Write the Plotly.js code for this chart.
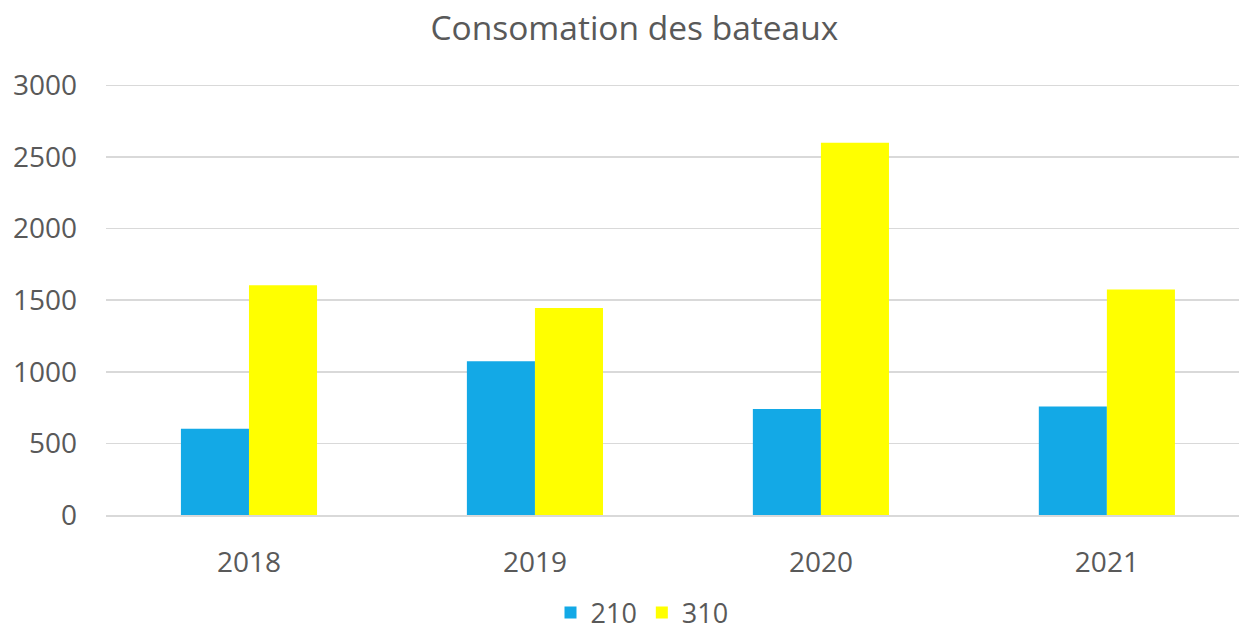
<!DOCTYPE html>
<html>
<head>
<meta charset="utf-8">
<script src="https://cdn.plot.ly/plotly-3.0.1.min.js"></script>
<style>html,body{margin:0;padding:0;background:#fff;}#chart{width:1239px;height:631px;}</style>
</head>
<body>
<div id="chart"></div>
<script>
const years = ["2018", "2019", "2020", "2021"];
const seriesNames = ["210", "310"];
const values210 = [602, 1073, 740, 758];
const values310 = [1605, 1445, 2600, 1575];
const yTicks = [0, 500, 1000, 1500, 2000, 2500, 3000];

const font = "Open Sans, Noto Sans, sans-serif";
const textColor = "#595959";

const traces = [
  {type: "bar", name: seriesNames[0], x: years, y: values210, marker: {color: "#13A9E6"}},
  {type: "bar", name: seriesNames[1], x: years, y: values310, marker: {color: "#FFFF00"}}
];

const layout = {
  width: 1239, height: 631,
  paper_bgcolor: "#fff", plot_bgcolor: "#fff",
  margin: {l: 106, r: 0, t: 84, b: 116, autoexpand: false},
  title: {text: "Consomation des bateaux", font: {family: font, size: 33.5, color: textColor},
          x: 0.512, xanchor: "center", y: 1 - 28/631, yanchor: "middle", yref: "container"},
  barmode: "group", bargap: 0.524, bargroupgap: 0,
  xaxis: {type: "category", range: [-0.5, 3.462], showgrid: false, zeroline: false,
          showline: true, linecolor: "#d9d9d9", linewidth: 1.5, ticks: "",
          tickfont: {family: font, size: 28, color: textColor}, ticklabelstandoff: 22, fixedrange: true},
  yaxis: {range: [0, 3010], tickvals: yTicks, showgrid: true, gridcolor: "#d9d9d9", gridwidth: 1.5,
          zeroline: false, showline: false, ticks: "",
          tickfont: {family: font, size: 28, color: textColor}, ticklabelstandoff: 28, fixedrange: true},
  showlegend: true,
  legend: {orientation: "h", xref: "container", x: 642/1239, xanchor: "center",
           yref: "container", y: 1 - 613/631, yanchor: "middle",
           font: {family: font, size: 27, color: textColor}, itemwidth: 30, traceorder: "normal"}
};

Plotly.newPlot("chart", traces, layout, {displayModeBar: false, staticPlot: true});
</script>
</body>
</html>
